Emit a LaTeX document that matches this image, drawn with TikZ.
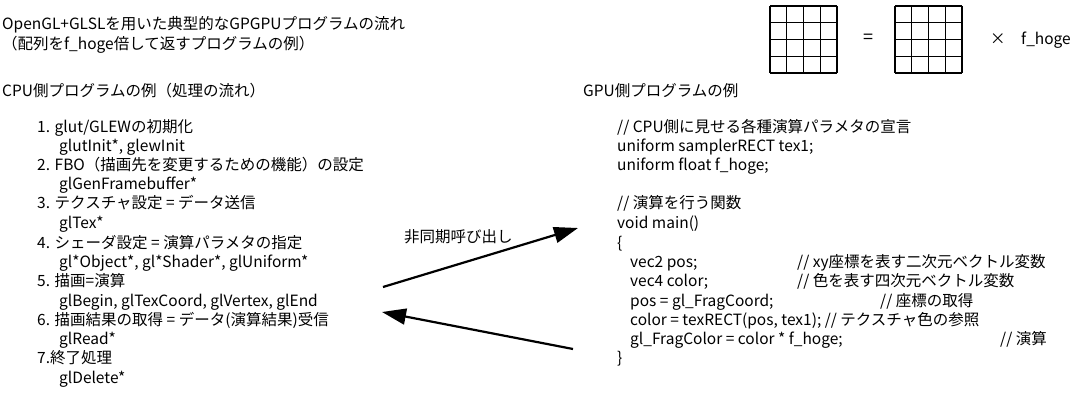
\documentclass[tikz,border=0pt]{standalone}
\usepackage{fontspec}
\setmainfont{Noto Sans CJK JP}
\usetikzlibrary{arrows.meta}
\begin{document}
\begin{tikzpicture}[x=1pt,y=-1pt,
  t/.style={anchor=base west,inner sep=0pt,font=\fontsize{15.5pt}{18pt}\selectfont},
  grid/.style={draw,line width=1.1pt},
  bigarrow/.style={line width=2.2pt,-{Triangle[length=24pt,width=16pt]}}]
\useasboundingbox (0,0) rectangle (1092,414);
\node[t] (h1) at (2,30) {OpenGL+GLSLを用いた典型的なGPGPUプログラムの流れ};
\node[t] (h2) at (2,50) {（配列をf\_hoge倍して返すプログラムの例）};
\node[t] (cpu) at (2,97) {CPU側プログラムの例（処理の流れ）};
\foreach \y/\x/\s [count=\i] in {
 133/37/{1. glut/GLEWの初期化},
 152/59/{glutInit*, glewInit},
 171/37/{2. FBO（描画先を変更するための機能）の設定},
 190/59/{glGenFramebuffer*},
 209/37/{3. テクスチャ設定 = データ送信},
 229/59/{glTex*},
 248/37/{4. シェーダ設定 = 演算パラメタの指定},
 267/59/{gl*Object*, gl*Shader*, glUniform*},
 286/37/{5. 描画=演算},
 306/59/{glBegin, glTexCoord, glVertex, glEnd},
 325/37/{6. 描画結果の取得 = データ(演算結果)受信},
 344/59/{glRead*},
 363/37/{7.終了処理},
 383/59/{glDelete*}}
 \node[t] (l\i) at (\x,\y) {\s};
\node[t] (gpu) at (583,97) {GPU側プログラムの例};
\foreach \y/\x/\s [count=\i] in {
 133/617/{// CPU側に見せる各種演算パラメタの宣言},
 152/617/{uniform samplerRECT tex1;},
 171/617/{uniform float f\_hoge;},
 209/617/{// 演算を行う関数},
 229/617/{void main()},
 248/617/{\{},
 267/630/{vec2 pos;},
 286/630/{vec4 color;},
 306/630/{pos = gl\_FragCoord;},
 325/630/{color = texRECT(pos, tex1); // テクスチャ色の参照},
 344/630/{gl\_FragColor = color * f\_hoge;},
 363/617/{\}}}
 \node[t] (r\i) at (\x,\y) {\s};
\node[t] (c1) at (797,267) {// xy座標を表す二次元ベクトル変数};
\node[t] (c2) at (797,286) {// 色を表す四次元ベクトル変数};
\node[t] (c3) at (880,306) {// 座標の取得};
\node[t] (c4) at (1000,344) {// 演算};
\node[t] (lab) at (404,243) {非同期呼び出し};
% grids
\foreach \gx in {770,895}{
  \foreach \k in {0,...,4}{
    \draw[grid] ({\gx+16.75*\k},6) -- ({\gx+16.75*\k},73);
    \draw[grid] (\gx,{6+16.75*\k}) -- ({\gx+67},{6+16.75*\k});
  }}
\node[inner sep=0pt,font=\fontsize{18pt}{18pt}\selectfont] (eq) at (868,39) {=};
\node[t] (times) at (990,45) {×\quad f\_hoge};
% arrows
\coordinate (a1s) at (383,287); \coordinate (a1e) at (578,228);
\coordinate (a2s) at (573,349); \coordinate (a2e) at (382,312);
\draw[bigarrow] (a1s) -- (a1e);
\draw[bigarrow] (a2s) -- (a2e);
\end{tikzpicture}
\end{document}
